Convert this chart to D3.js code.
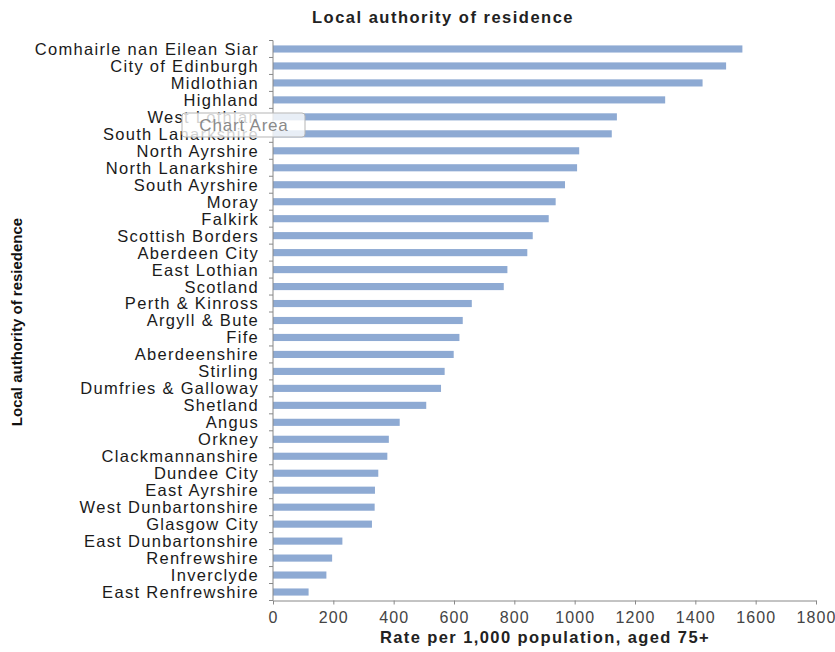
<!DOCTYPE html>
<html><head><meta charset="utf-8">
<script src="https://cdn.jsdelivr.net/npm/d3@7"></script>
<style>body{margin:0;background:#fff;} svg{display:block;}</style>
</head><body>
<svg id="chart" width="835" height="652"></svg>
<script>
const categories = ["Comhairle nan Eilean Siar","City of Edinburgh","Midlothian","Highland","West Lothian","South Lanarkshire","North Ayrshire","North Lanarkshire","South Ayrshire","Moray","Falkirk","Scottish Borders","Aberdeen City","East Lothian","Scotland","Perth & Kinross","Argyll & Bute","Fife","Aberdeenshire","Stirling","Dumfries & Galloway","Shetland","Angus","Orkney","Clackmannanshire","Dundee City","East Ayrshire","West Dunbartonshire","Glasgow City","East Dunbartonshire","Renfrewshire","Inverclyde","East Renfrewshire"];
const values = [1556,1502,1424,1300,1140,1123,1015,1008,968,937,914,861,843,777,765,659,629,618,599,569,557,508,420,384,379,349,338,337,328,230,196,177,118];
const xTicks = [0,200,400,600,800,1000,1200,1400,1600,1800];
const chartTitle = "Local authority of residence";
const xTitle = "Rate per 1,000 population, aged 75+";
const yTitle = "Local authority of resiedence";

const svg = d3.select("#chart");
const m = {left:273, right:19, top:40.5, bottom:51.5};
const W = 835, H = 652;
const x = d3.scaleLinear().domain([0,1800]).range([m.left, W-m.right]);
const y = d3.scaleBand().domain(categories).range([m.top, H-m.bottom]).paddingInner(0.58).paddingOuter(0.29);

svg.selectAll("rect.bar").data(values).join("rect")
  .attr("class","bar")
  .attr("x", x(0)).attr("y",(d,i)=>y(categories[i]))
  .attr("width", d=>x(d)-x(0)).attr("height", y.bandwidth())
  .attr("fill","#8eaad3");

// y axis
const yAxisG = svg.append("g").attr("transform",`translate(${x(0)},0)`);
yAxisG.append("line").attr("x1",0).attr("x2",0).attr("y1",m.top).attr("y2",H-m.bottom).attr("stroke","#888");
const bounds = d3.range(categories.length+1).map(i=>m.top + i*(H-m.top-m.bottom)/categories.length);
yAxisG.selectAll("line.tk").data(bounds).join("line").attr("class","tk")
  .attr("x1",-4).attr("x2",0).attr("y1",d=>d).attr("y2",d=>d).attr("stroke","#888");
yAxisG.selectAll("text").data(categories).join("text")
  .attr("x",-14).attr("y",d=>y(d)+y.bandwidth()/2).attr("dy","0.36em")
  .attr("text-anchor","end").attr("font-family","Liberation Sans, Arial, sans-serif")
  .attr("font-size",16.5).attr("letter-spacing","1.3px").attr("fill","#1a1a1a").text(d=>d);

// x axis
const xAxis = d3.axisBottom(x).tickValues(xTicks).tickSize(4).tickSizeOuter(0).tickFormat(d3.format("d"));
const xg = svg.append("g").attr("transform",`translate(0,${H-m.bottom})`).call(xAxis);
xg.select(".domain").attr("stroke","#888");
xg.selectAll(".tick line").attr("stroke","#888");
xg.selectAll(".tick text").attr("font-family","Liberation Sans, Arial, sans-serif").attr("font-size",16)
  .attr("fill","#444").attr("dy","0.95em").attr("letter-spacing","1.1px");

// titles
svg.append("text").attr("x",443).attr("y",23).attr("text-anchor","middle")
  .attr("font-family","Liberation Sans, Arial, sans-serif").attr("font-weight","bold").attr("font-size",16.5)
  .attr("letter-spacing","1.5px").attr("fill","#222").text(chartTitle);
svg.append("text").attr("x",545).attr("y",643).attr("text-anchor","middle")
  .attr("font-family","Liberation Sans, Arial, sans-serif").attr("font-weight","bold").attr("font-size",16.5)
  .attr("letter-spacing","1.4px").attr("fill","#222").text(xTitle);
svg.append("text").attr("transform","translate(22,322) rotate(-90)").attr("text-anchor","middle")
  .attr("font-family","Liberation Sans Narrow, Arial Narrow, sans-serif").attr("font-weight","bold").attr("font-size",15)
  .attr("fill","#111").text(yTitle);

// "Chart Area" tooltip overlay
const tip = svg.append("g");
tip.append("rect").attr("x",182).attr("y",113).attr("width",123).attr("height",24).attr("rx",3)
  .attr("fill","#fff").attr("fill-opacity",0.8).attr("stroke","#b5b5b5");
tip.append("text").attr("x",244).attr("y",131).attr("text-anchor","middle")
  .attr("font-family","Liberation Sans, Arial, sans-serif").attr("font-size",17).attr("letter-spacing","0.8px")
  .attr("fill","#8a8a8a").text("Chart Area");
</script>
</body></html>
